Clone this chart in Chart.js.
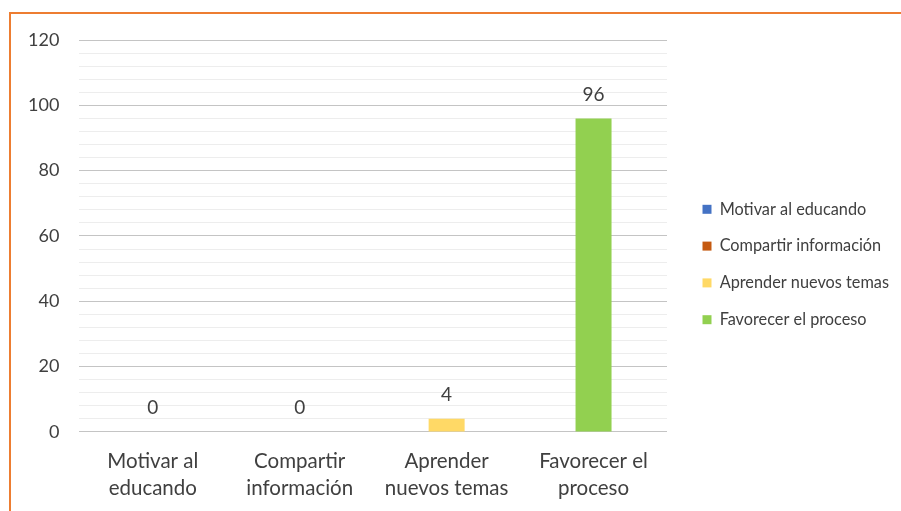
<!DOCTYPE html>
<html>
<head>
<meta charset="utf-8">
<script src="https://cdn.jsdelivr.net/npm/chart.js@4.4.1/dist/chart.umd.min.js"></script>
<style>
  html, body { margin: 0; padding: 0; background: #fff; }
  #wrap { position: relative; width: 901px; height: 511px; }
  #frame { position: absolute; left: 9px; top: 12px; right: -5px; bottom: -5px;
           border-left: 2px solid #ED7D31; border-top: 2px solid #ED7D31; pointer-events: none; }
</style>
</head>
<body>
<div id="wrap">
  <canvas id="grafico" width="901" height="511"></canvas>
  <div id="frame"></div>
</div>
<script>
// datos
const categorias = [
    ['Motivar al', 'educando'],
    ['Compartir', 'información'],
    ['Aprender', 'nuevos temas'],
    ['Favorecer el', 'proceso']
];
const leyenda = ['Motivar al educando', 'Compartir información', 'Aprender nuevos temas', 'Favorecer el proceso'];
const valores = [0, 0, 4, 96];
const colores = ['#4472C4', '#C55A11', '#FFD966', '#92D050'];

const fuente = 'Lato, "Open Sans", sans-serif';
const gris = '#404040';

// etiquetas de valor encima de cada barra
const etiquetas = {
    id: 'etiquetas',
    afterDatasetsDraw(chart) {
        const ctx = chart.ctx;
        const meta = chart.getDatasetMeta(0);
        ctx.save();
        ctx.font = '19px ' + fuente;
        ctx.fillStyle = gris;
        ctx.textAlign = 'center';
        ctx.textBaseline = 'middle';
        meta.data.forEach((bar, i) => {
            ctx.fillText(String(valores[i]), bar.x, bar.y - 24);
        });
        ctx.restore();
    }
};

// mover la leyenda (como en Excel)
const moverLeyenda = {
    id: 'moverLeyenda',
    beforeInit(chart) {
        const fit = chart.legend.fit;
        chart.legend.fit = function () {
            fit.call(this);
            this.width = 234;
        };
    },
    afterLayout(chart) {
        chart.legend.left += 15;
        chart.legend.top -= 7;
        chart.legend.bottom -= 7;
    }
};

var g1 = document.getElementById('grafico').getContext('2d');
const g1_1 = new Chart(g1, {
    type: 'bar',
    data: {
        labels: categorias,
        datasets: [{
            label: 'Serie',
            data: valores,
            backgroundColor: colores,
            borderWidth: 0,
            barPercentage: 0.245,
            categoryPercentage: 1
        }]
    },
    options: {
        responsive: false,
        animation: false,
        layout: { padding: { left: 8, top: 40, right: 0, bottom: 8 } },
        plugins: {
            tooltip: { enabled: false },
            legend: {
                position: 'right',
                labels: {
                    font: { family: fuente, size: 16.3 },
                    color: gris,
                    boxWidth: 9,
                    boxHeight: 9,
                    padding: 20.5,
                    generateLabels: () => leyenda.map((t, i) => ({
                        text: t,
                        fillStyle: colores[i],
                        strokeStyle: colores[i],
                        lineWidth: 0,
                        fontColor: gris,
                        index: i
                    }))
                }
            }
        },
        scales: {
            x: {
                afterFit: (s) => { s.height -= 15; },
                grid: { display: false, drawTicks: false },
                border: { display: false },
                ticks: {
                    font: { family: fuente, size: 20.5, lineHeight: 1.32 },
                    color: gris,
                    padding: 16,
                    maxRotation: 0
                }
            },
            y: {
                min: 0,
                max: 120,
                border: { display: false },
                grid: {
                    drawTicks: false,
                    color: (c) => (c.tick && c.tick.value % 20 === 0) ? '#C4C4C4' : '#EDEDED'
                },
                ticks: {
                    stepSize: 4,
                    autoSkip: false,
                    font: { family: fuente, size: 18 },
                    color: gris,
                    padding: 20,
                    callback: (v) => (v % 20 === 0 ? v : '')
                }
            }
        }
    },
    plugins: [etiquetas, moverLeyenda]
});
</script>
</body>
</html>
